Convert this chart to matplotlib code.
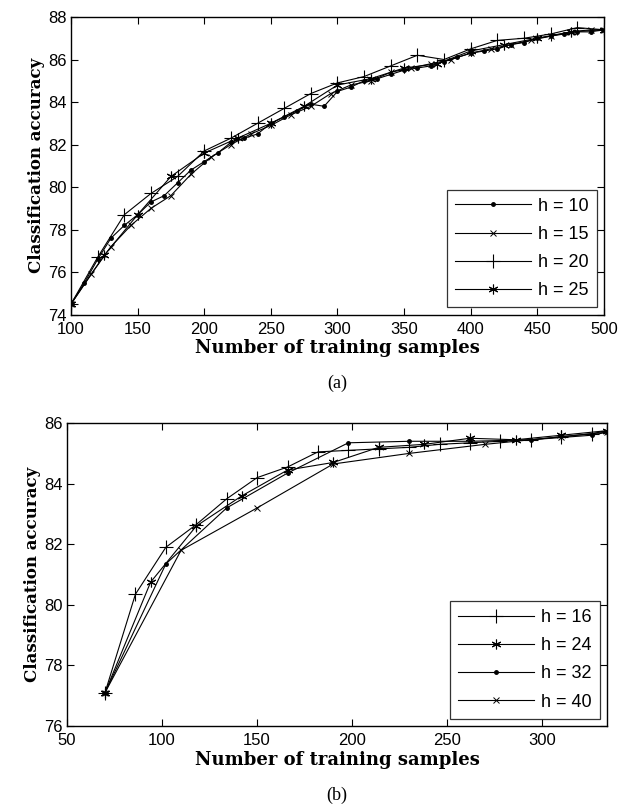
import matplotlib
matplotlib.use('Agg')
import matplotlib.pyplot as plt

# ---- (a) data ----
x10 = list(range(100, 501, 10))
a10 = [74.5, 75.5, 76.6, 77.6, 78.2, 78.7, 79.3, 79.6, 80.2, 80.8,
       81.2, 81.6, 82.1, 82.3, 82.5, 83.0, 83.3, 83.6, 83.9, 83.8,
       84.5, 84.7, 85.0, 85.1, 85.3, 85.5, 85.6, 85.7, 85.9, 86.1,
       86.3, 86.4, 86.5, 86.7, 86.8, 87.0, 87.1, 87.2, 87.3, 87.3, 87.4]
x15 = list(range(100, 491, 15)) + [500]
a15 = [74.5, 75.9, 77.2, 78.2, 79.0, 79.6, 80.6, 81.4, 82.0, 82.5,
       82.9, 83.4, 83.8, 84.4, 84.8, 85.0, 85.4, 85.6, 85.8, 86.0,
       86.3, 86.5, 86.7, 86.9, 87.1, 87.3, 87.4, 87.4]
x20 = list(range(100, 501, 20))
a20 = [74.5, 76.7, 78.7, 79.7, 80.5, 81.7, 82.3, 83.0, 83.7, 84.4,
       84.9, 85.2, 85.7, 86.2, 86.0, 86.5, 86.9, 87.0, 87.2, 87.5, 87.4]
x25 = list(range(100, 501, 25))
a25 = [74.5, 76.8, 78.7, 80.5, 81.6, 82.3, 83.0, 83.8, 84.8, 85.1,
       85.6, 85.8, 86.4, 86.7, 87.0, 87.3, 87.4]

# ---- (b) data ----
x16 = [70, 86, 102, 118, 134, 150, 166, 182, 198, 214, 230, 246, 262, 278, 294, 310, 326, 334]
b16 = [77.1, 80.35, 81.9, 82.65, 83.5, 84.2, 84.55, 85.05, 85.1, 85.15,
       85.2, 85.3, 85.35, 85.4, 85.45, 85.55, 85.65, 85.75]
x24 = [70, 94, 118, 142, 166, 190, 214, 238, 262, 286, 310, 334]
b24 = [77.1, 80.75, 82.6, 83.6, 84.45, 84.7, 85.2, 85.3, 85.5, 85.45, 85.6, 85.75]
x32 = [70, 102, 134, 166, 198, 230, 262, 294, 326, 334]
b32 = [77.1, 81.35, 83.2, 84.35, 85.35, 85.4, 85.4, 85.45, 85.6, 85.7]
x40 = [70, 110, 150, 190, 230, 270, 310, 334]
b40 = [77.1, 81.8, 83.2, 84.65, 85.0, 85.3, 85.55, 85.7]

star = (6, 2, 0)
tick_font = ['Liberation Sans Narrow', 'Liberation Sans', 'DejaVu Sans']
label_font = ['DejaVu Serif']
cap_font = ['Liberation Serif']

fig = plt.figure(figsize=(6.2, 8.09), dpi=100)
ax1 = fig.add_axes([0.1145, 0.611, 0.8595, 0.368])
ax2 = fig.add_axes([0.108, 0.1026, 0.871, 0.3744])

kw = dict(color='black', linewidth=0.8)
ax1.plot(x10, a10, marker='.', markersize=5, label='h = 10', **kw)
ax1.plot(x15, a15, marker='x', markersize=4.5, markeredgewidth=0.7, label='h = 15', **kw)
ax1.plot(x20, a20, marker='+', markersize=10, markeredgewidth=0.8, label='h = 20', **kw)
ax1.plot(x25, a25, marker=star, markersize=7, markeredgewidth=0.8, label='h = 25', **kw)
ax1.set_xlim(100, 500)
ax1.set_ylim(74, 88)
ax1.set_xticks(range(100, 501, 50))
ax1.set_yticks(range(74, 89, 2))

ax2.plot(x16, b16, marker='+', markersize=10, markeredgewidth=0.8, label='h = 16', **kw)
ax2.plot(x24, b24, marker=star, markersize=7, markeredgewidth=0.8, label='h = 24', **kw)
ax2.plot(x32, b32, marker='.', markersize=5, label='h = 32', **kw)
ax2.plot(x40, b40, marker='x', markersize=4.5, markeredgewidth=0.7, label='h = 40', **kw)
ax2.set_xlim(50, 334)
ax2.set_ylim(76, 86)
ax2.set_xticks(range(50, 301, 50))
ax2.set_yticks(range(76, 87, 2))

for ax, cap, capy in [(ax1, '(a)', -0.23), (ax2, '(b)', -0.228)]:
    ax.tick_params(direction='in', top=True, right=True, length=5, width=0.8,
                   labelsize=12)
    ax.tick_params(axis='x', pad=5)
    ax.tick_params(axis='y', pad=3)
    for lab in ax.get_xticklabels() + ax.get_yticklabels():
        lab.set_family(tick_font)
    for s in ax.spines.values():
        s.set_linewidth(1.0)
    ax.set_xlabel('Number of training samples', family=label_font,
                  fontweight='bold', fontsize=13, labelpad=2)
    ax.set_ylabel('Classification accuracy', family=label_font,
                  fontweight='bold', fontsize=12, labelpad=2)
    leg = ax.legend(loc='lower right', fancybox=False, edgecolor='black',
                    handlelength=4.2, prop={'family': tick_font, 'size': 13},
                    borderaxespad=0.4, labelspacing=0.62, handletextpad=0.4,
                    borderpad=0.45)
    leg.get_frame().set_linewidth(0.9)
    ax.text(0.5, capy, cap, transform=ax.transAxes, ha='center', va='center',
            family=cap_font, fontsize=13)

fig.savefig('out.png', dpi=100)
